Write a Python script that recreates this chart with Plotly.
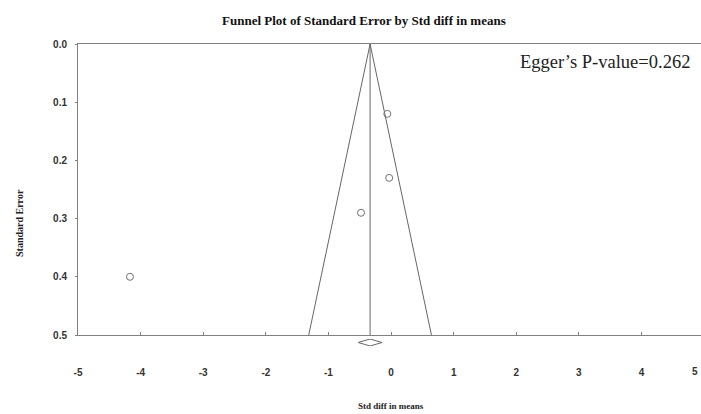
import plotly.graph_objects as go

# ---- data ----
std_diff = [-0.06, -0.03, -0.48, -4.17]
std_err = [0.12, 0.23, 0.29, 0.40]
pooled = -0.335
se_max = 0.5
z = 1.96
diamond_half = 0.19
x_ticks = [-5, -4, -3, -2, -1, 0, 1, 2, 3, 4]
y_ticks = [0.0, 0.1, 0.2, 0.3, 0.4, 0.5]
title_text = "Funnel Plot of Standard Error by Std diff in means"
egger_text = "Egger\u2019s P-value=0.262"

W, H = 701, 414
ML, MR, MT, MB = 78, 0, 44, 60
pw = W - ML - MR
ph = H - MT - MB


def px_x(x):
    return (x - ML) / pw


def px_y(y):
    return (H - MB - y) / ph


fig = go.Figure()

line_col = "#666666"
# funnel
fig.add_trace(go.Scatter(
    x=[pooled - z * se_max, pooled, pooled + z * se_max],
    y=[se_max, 0, se_max], mode="lines",
    line=dict(color=line_col, width=1), showlegend=False, hoverinfo="skip"))
# vertical pooled line
fig.add_trace(go.Scatter(
    x=[pooled, pooled], y=[0, se_max], mode="lines",
    line=dict(color=line_col, width=1), showlegend=False, hoverinfo="skip"))
# studies
fig.add_trace(go.Scatter(
    x=std_diff, y=std_err, mode="markers",
    marker=dict(symbol="circle-open", size=7, color="#707070", line=dict(width=1)),
    showlegend=False))
# diamond in a separate strip below
fig.add_trace(go.Scatter(
    x=[pooled - diamond_half, pooled, pooled + diamond_half, pooled, pooled - diamond_half],
    y=[0, 1, 0, -1, 0], mode="lines",
    line=dict(color=line_col, width=1), xaxis="x2", yaxis="y2",
    showlegend=False, hoverinfo="skip"))

main_bottom = px_y(335)

fig.update_layout(
    width=W, height=H,
    margin=dict(l=ML, r=MR, t=MT, b=MB),
    paper_bgcolor="white", plot_bgcolor="white",
    xaxis=dict(
        range=[-5, 4.95], tickvals=x_ticks, ticktext=[str(v) for v in x_ticks],
        showgrid=False, zeroline=False, showline=True, linecolor="#808080",
        linewidth=1, mirror=True, ticks="inside", ticklen=3, tickcolor="#808080",
        ticklabelstandoff=28, anchor="y",
        tickfont=dict(family="Liberation Sans", size=10, color="#333333", weight="bold"),
    ),
    yaxis=dict(
        range=[0.5, 0], domain=[main_bottom, 1], tickvals=y_ticks, tickformat=".1f",
        showgrid=False, zeroline=False, showline=True, linecolor="#808080",
        linewidth=1, ticks="outside", ticklen=2, tickcolor="#808080",
        ticklabelstandoff=6,
        tickfont=dict(family="Liberation Sans", size=10, color="#333333", weight="bold"),
    ),
    xaxis2=dict(matches="x", anchor="y2", visible=False, showgrid=False, zeroline=False),
    yaxis2=dict(range=[-1, 1], domain=[px_y(346), px_y(339)], visible=False,
                showgrid=False, zeroline=False),
    annotations=[
        dict(text=title_text, xref="paper", yref="paper", x=px_x(364), y=px_y(20),
             showarrow=False, xanchor="center", yanchor="middle",
             font=dict(family="Liberation Serif", size=13, color="#111111", weight="bold")),
        dict(text=egger_text, xref="paper", yref="paper", x=px_x(692), y=px_y(62),
             showarrow=False, xanchor="right", yanchor="middle",
             font=dict(family="Liberation Serif", size=18.5, color="#222222")),
        dict(text="Std diff in means", xref="paper", yref="paper", x=px_x(391), y=px_y(406),
             showarrow=False, xanchor="center", yanchor="middle",
             font=dict(family="Liberation Serif", size=9, color="#222222", weight="bold")),
        dict(text="Standard Error", xref="paper", yref="paper", x=px_x(19), y=px_y(223),
             showarrow=False, xanchor="center", yanchor="middle", textangle=-90,
             font=dict(family="Liberation Serif", size=10, color="#222222", weight="bold")),
        dict(text="5", xref="paper", yref="paper", x=px_x(695), y=px_y(371),
             showarrow=False, xanchor="center", yanchor="middle",
             font=dict(family="Liberation Sans", size=10, color="#333333", weight="bold")),
    ],
)

fig.write_html("out.html")
